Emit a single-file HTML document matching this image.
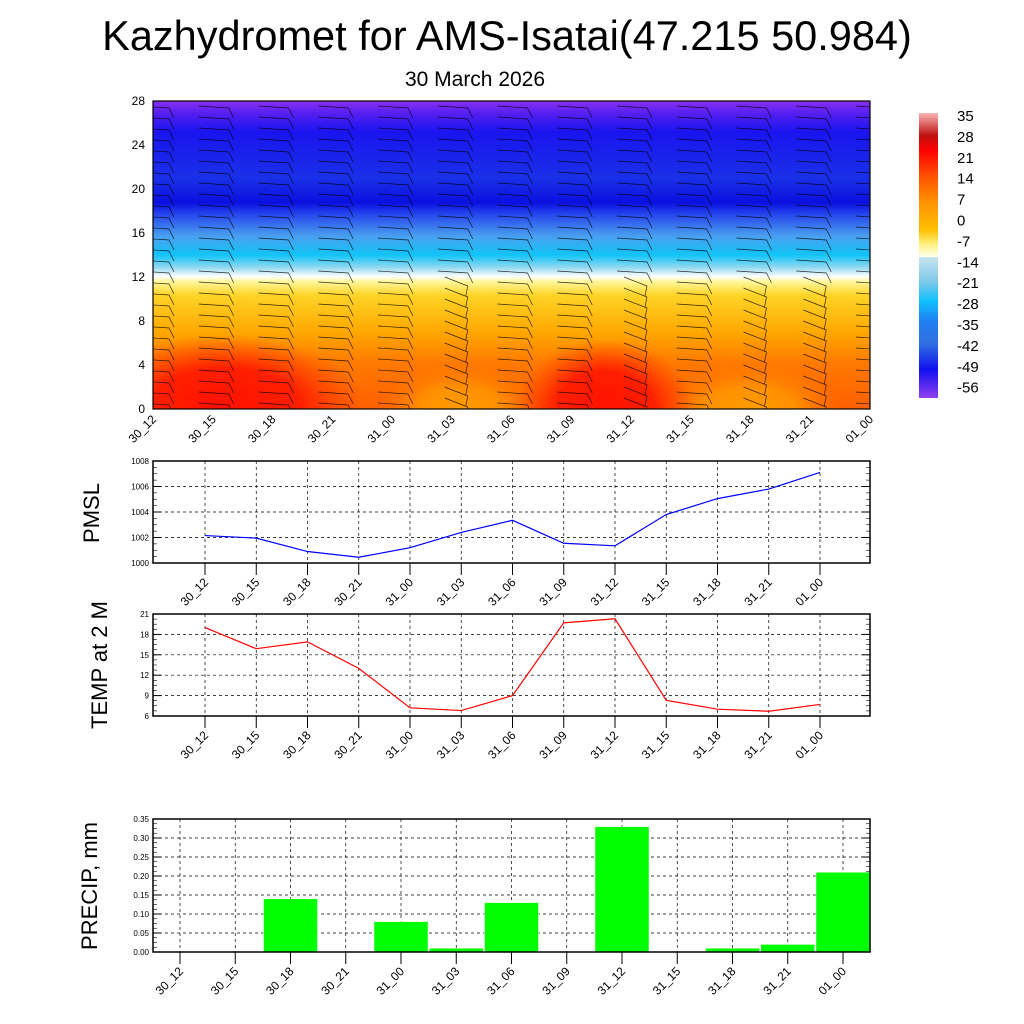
<!DOCTYPE html>
<html><head><meta charset="utf-8"><style>
body{margin:0;background:#fff}
svg{display:block;font-family:"Liberation Sans",sans-serif}
</style></head><body>
<svg id="s" width="1024" height="1024" xmlns="http://www.w3.org/2000/svg">
<defs>
<clipPath id="pc"><rect x="153" y="101" width="717" height="308"/></clipPath>
<linearGradient id="tg" x1="0" y1="0" x2="0" y2="1">
<stop offset="0" stop-color="#8a30f0"/><stop offset="0.04" stop-color="#5520f0"/><stop offset="0.1" stop-color="#1a14f0"/>
<stop offset="0.25" stop-color="#1a30e8"/><stop offset="0.33" stop-color="#0a10e0"/><stop offset="0.37" stop-color="#2848ec"/>
<stop offset="0.44" stop-color="#4aa0f0"/><stop offset="0.5" stop-color="#10c4f8"/><stop offset="0.54" stop-color="#90d8f0"/>
<stop offset="0.57" stop-color="#ffffff"/><stop offset="0.585" stop-color="#fff8a0"/><stop offset="0.63" stop-color="#ffd428"/>
<stop offset="0.75" stop-color="#ffa800"/><stop offset="0.85" stop-color="#ff7a00"/><stop offset="1" stop-color="#ff6000"/>
</linearGradient>
<radialGradient id="rb" cx="0.5" cy="0.5" r="0.5"><stop offset="0" stop-color="#ff1000"/><stop offset="0.55" stop-color="#ff2000"/><stop offset="1" stop-color="#ff4000" stop-opacity="0"/></radialGradient>
<radialGradient id="ob" cx="0.5" cy="0.5" r="0.5"><stop offset="0" stop-color="#ff9c00"/><stop offset="0.5" stop-color="#ff9000"/><stop offset="1" stop-color="#ff8000" stop-opacity="0"/></radialGradient>
<linearGradient id="cb" x1="0" y1="0" x2="0" y2="1">
<stop offset="0" stop-color="#f8b4b4"/><stop offset="0.08" stop-color="#c01010"/><stop offset="0.13" stop-color="#ff0000"/>
<stop offset="0.22" stop-color="#ff5000"/><stop offset="0.31" stop-color="#ff9000"/><stop offset="0.41" stop-color="#ffc000"/>
<stop offset="0.46" stop-color="#fff080"/><stop offset="0.505" stop-color="#fffff0"/><stop offset="0.506" stop-color="#c8e4f0"/>
<stop offset="0.59" stop-color="#80c8e8"/><stop offset="0.66" stop-color="#10c0ff"/><stop offset="0.73" stop-color="#2080f0"/>
<stop offset="0.81" stop-color="#3070e0"/><stop offset="0.9" stop-color="#1010f0"/><stop offset="1" stop-color="#9040f0"/>
</linearGradient>
</defs>
<text x="507" y="50" font-size="41.5" text-anchor="middle">Kazhydromet for AMS-Isatai(47.215 50.984)</text>
<text x="475" y="86" font-size="21" text-anchor="middle">30 March 2026</text>
<g id="topPanel">
<rect x="153" y="101" width="717" height="308" fill="url(#tg)"/>
<g clip-path="url(#pc)">
<ellipse cx="460" cy="409" rx="80" ry="45" fill="url(#ob)"/>
<ellipse cx="750" cy="409" rx="90" ry="45" fill="url(#ob)"/>
<ellipse cx="225" cy="409" rx="140" ry="75" fill="url(#rb)"/>
<ellipse cx="605" cy="409" rx="90" ry="70" fill="url(#rb)"/>
<g id="barbs" stroke="#000" stroke-width="0.7" fill="none" opacity="0.8"></g>
</g>
<rect x="153" y="101" width="717" height="308" fill="none" stroke="#000" stroke-width="1.2"/>
<rect x="919" y="113" width="19" height="285" fill="url(#cb)"/>
<g id="cbl" font-size="15"></g>
</g>
<g id="p1"></g><g id="p2"></g><g id="p3"></g>
<text transform="translate(99,513) rotate(-90)" font-size="22" text-anchor="middle">PMSL</text>
<text transform="translate(107,665) rotate(-90)" font-size="22" text-anchor="middle">TEMP at 2 M</text>
<text transform="translate(97,886) rotate(-90)" font-size="22" text-anchor="middle">PRECIP, mm</text>
</svg>
<script>
const categories=["30_12","30_15","30_18","30_21","31_00","31_03","31_06","31_09","31_12","31_15","31_18","31_21","01_00"];
const pmslValues=[1002.15,1001.95,1000.9,1000.45,1001.2,1002.4,1003.35,1001.55,1001.35,1003.8,1005.05,1005.8,1007.1];
const tempValues=[19,15.9,16.9,13,7.2,6.8,9,19.7,20.3,8.3,7,6.7,7.7];
const precipValues=[0,0,0.14,0,0.08,0.01,0.13,0,0.33,0,0.01,0.02,0.21];
const pmslTicks=[1000,1002,1004,1006,1008];
const tempTicks=[6,9,12,15,18,21];
const precipTicks=["0.00","0.05","0.10","0.15","0.20","0.25","0.30","0.35"];
const heightTicks=[0,4,8,12,16,20,24,28];
const cbLabels=[35,28,21,14,7,0,-7,-14,-21,-28,-35,-42,-49,-56];
const NS="http://www.w3.org/2000/svg";
function mk(p,t,a,txt){const e=document.createElementNS(NS,t);for(const k in a)e.setAttribute(k,a[k]);if(txt!==undefined)e.textContent=txt;p.appendChild(e);return e;}
const topG=document.getElementById('topPanel');
const tx=i=>153+i*(717/12);
const ty=v=>409-v*(308/28);
heightTicks.forEach(v=>{const t=mk(topG,'text',{x:145,y:ty(v)+4,'font-size':12,'text-anchor':'end'},v);

});
categories.forEach((c,i)=>{const t=mk(topG,'text',{transform:`translate(${tx(i)+4},${420}) rotate(-45)`,'font-size':12,'text-anchor':'end'},c);

});
const bg=document.getElementById('barbs');
for(let i=0;i<13;i++){for(let y=106;y<405;y+=11){const x=tx(i)+8;
let d=`M${x-22} ${y} L${x+8} ${y+2} L${x+13} ${y+12}`;
if(y>280&&(i==5||i==8||i==10||i==11))d=`M${x-15} ${y-5} L${x+8} ${y+4} L${x+6} ${y+14}`;
const p=mk(bg,'path',{d:d});

}}
const cbl=document.getElementById('cbl');
cbLabels.forEach((v,i)=>{const t=mk(cbl,'text',{x:957,y:121+i*20.9},v);

});
function panel(gid,name,L,R,T,B,ticks,ymin,ymax,xs,fs){
 const g=document.getElementById(gid);
 
 
 const sy=v=>B-(v-ymin)/(ymax-ymin)*(B-T);
 ticks.forEach(v=>{const y=sy(+v);
  if(+v!==ymin&&+v!==ymax){const l=mk(g,'line',{x1:L,x2:R,y1:y,y2:y,stroke:'#000','stroke-width':0.7,'stroke-dasharray':'3,3'});
  
  }
  const t=mk(g,'text',{x:L-4,y:y+3,'font-size':fs,'text-anchor':'end'},v);
  
  
  mk(g,'line',{x1:L,x2:L+8,y1:y,y2:y,stroke:'#000'});mk(g,'line',{x1:R,x2:R-8,y1:y,y2:y,stroke:'#000'});
 });
 const n=(ticks.length-1)*4;
 for(let k=0;k<=n;k++){const y=B-k*(B-T)/n;
  mk(g,'line',{x1:L,x2:L+4,y1:y,y2:y,stroke:'#000','stroke-width':0.6});mk(g,'line',{x1:R,x2:R-4,y1:y,y2:y,stroke:'#000','stroke-width':0.6});}
 categories.forEach((c,i)=>{const x=xs(i);
  const l=mk(g,'line',{x1:x,x2:x,y1:T,y2:B,stroke:'#000','stroke-width':0.7,'stroke-dasharray':'3,3'});
  
  
  mk(g,'line',{x1:x,x2:x,y1:B,y2:B+12,stroke:'#000'});
  const t=mk(g,'text',{transform:`translate(${x+4},${B+20}) rotate(-45)`,'font-size':12,'text-anchor':'end'},c);
  
  });
 return {g,sy};
}
const lx=i=>205+i*51.25;
let a=panel('p1','pmsl-panel',153,870,461,563,pmslTicks,1000,1008,lx,8);
let pl=mk(a.g,'polyline',{points:pmslValues.map((v,i)=>lx(i)+','+a.sy(v)).join(' '),fill:'none',stroke:'#0000ff','stroke-width':1.2});


mk(a.g,'rect',{x:153,y:461,width:717,height:102,fill:'none',stroke:'#000','stroke-width':1.5});
let b=panel('p2','temp-panel',153,870,614,716,tempTicks,6,21,lx,8);
pl=mk(b.g,'polyline',{points:tempValues.map((v,i)=>lx(i)+','+b.sy(v)).join(' '),fill:'none',stroke:'#ff0000','stroke-width':1.2});


mk(b.g,'rect',{x:153,y:614,width:717,height:102,fill:'none',stroke:'#000','stroke-width':1.5});
const bx=i=>180+i*55.25;
let c=panel('p3','precip-panel',153,870,819,952,precipTicks,0,0.35,bx,8);
precipValues.forEach((v,i)=>{if(v<=0)return;const y=c.sy(v);
 const r=mk(c.g,'rect',{x:bx(i)-27,y:y,width:54,height:952-y,fill:'#00ff00',stroke:'#fff','stroke-width':0.5});
 
 });
mk(c.g,'rect',{x:153,y:819,width:717,height:133,fill:'none',stroke:'#000','stroke-width':1.5});
</script>
</body></html>
